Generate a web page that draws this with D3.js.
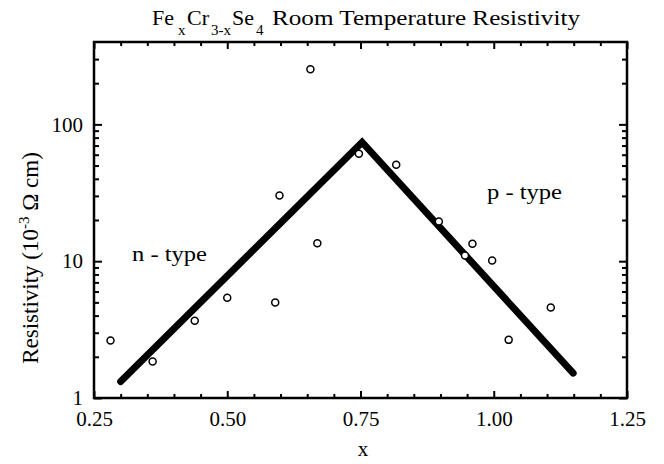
<!DOCTYPE html>
<html>
<head>
<meta charset="utf-8">
<script src="https://cdnjs.cloudflare.com/ajax/libs/d3/7.8.5/d3.min.js"></script>
<style>
  body { margin: 0; background: #fff; }
  text { font-family: "Liberation Serif", "DejaVu Serif", serif; fill: #000; }
</style>
</head>
<body>
<script>
// measured points, x composition vs resistivity (10^-3 ohm cm)
var xVals = [0.281, 0.36, 0.439, 0.50, 0.59, 0.598, 0.656, 0.669, 0.747, 0.817, 0.897, 0.946, 0.960, 0.997, 1.028, 1.107];
var rhoVals = [2.63, 1.85, 3.67, 5.4, 4.99, 30.2, 253, 13.5, 61, 50.7, 19.5, 11.0, 13.4, 10.1, 2.66, 4.59];

// guide lines (n-type rise, p-type fall)
var fitX = [0.30, 0.753, 1.149];
var fitY = [1.32, 74, 1.52];

var xTickLabels = [0.25, 0.50, 0.75, 1.00, 1.25];
var xMinorTicks = [0.30, 0.35, 0.40, 0.45, 0.55, 0.60, 0.65, 0.70, 0.80, 0.85, 0.90, 0.95, 1.05, 1.10, 1.15, 1.20];
var yTickLabels = [1, 10, 100];
var yMinorTicks = [2, 3, 4, 5, 6, 7, 8, 9, 20, 30, 40, 50, 60, 70, 80, 90, 200, 300];

var width = 664, height = 464;
var margin = {left: 94, right: 37, top: 42, bottom: 66};

var svg = d3.select("body").append("svg")
    .attr("width", width)
    .attr("height", height);

var x = d3.scaleLinear().domain([0.25, 1.25]).range([margin.left, width - margin.right]);
var y = d3.scaleLog().domain([1, 400]).range([height - margin.bottom, margin.top]);

var x0 = x.range()[0], x1 = x.range()[1], y0 = y.range()[0], y1 = y.range()[1];

function styleAxis(g) {
    g.select(".domain").remove();
    g.selectAll(".tick line").attr("stroke", "#000").attr("stroke-width", 2);
    g.selectAll(".tick text")
        .style("font-size", "21px");
}

// bottom
svg.append("g").attr("transform", "translate(0," + y0 + ")")
    .call(d3.axisBottom(x).tickValues(xTickLabels).tickSize(-7).tickPadding(13)
        .tickFormat(d3.format(".2f")))
    .call(styleAxis);
svg.append("g").attr("transform", "translate(0," + y0 + ")")
    .call(d3.axisBottom(x).tickValues(xMinorTicks).tickSize(-4).tickFormat(""))
    .call(styleAxis);
// top
svg.append("g").attr("transform", "translate(0," + y1 + ")")
    .call(d3.axisTop(x).tickValues(xTickLabels).tickSize(-7).tickFormat(""))
    .call(styleAxis);
svg.append("g").attr("transform", "translate(0," + y1 + ")")
    .call(d3.axisTop(x).tickValues(xMinorTicks).tickSize(-4).tickFormat(""))
    .call(styleAxis);
// left
svg.append("g").attr("transform", "translate(" + x0 + ",0)")
    .call(d3.axisLeft(y).tickValues(yTickLabels).tickSize(-8).tickPadding(11)
        .tickFormat(d3.format("d")))
    .call(styleAxis);
svg.append("g").attr("transform", "translate(" + x0 + ",0)")
    .call(d3.axisLeft(y).tickValues(yMinorTicks).tickSize(-5).tickFormat(""))
    .call(styleAxis);
// right
svg.append("g").attr("transform", "translate(" + x1 + ",0)")
    .call(d3.axisRight(y).tickValues(yTickLabels).tickSize(-8).tickFormat(""))
    .call(styleAxis);
svg.append("g").attr("transform", "translate(" + x1 + ",0)")
    .call(d3.axisRight(y).tickValues(yMinorTicks).tickSize(-5).tickFormat(""))
    .call(styleAxis);

// frame
svg.append("rect")
    .attr("x", x0).attr("y", y1)
    .attr("width", x1 - x0).attr("height", y0 - y1)
    .attr("fill", "none").attr("stroke", "#000").attr("stroke-width", 2.5);

// thick guide line
var fit = fitX.map(function (d, i) { return [d, fitY[i]]; });
svg.append("path")
    .datum(fit)
    .attr("d", d3.line().x(function (d) { return x(d[0]); }).y(function (d) { return y(d[1]); }))
    .attr("fill", "none")
    .attr("stroke", "#000")
    .attr("stroke-width", 7)
    .attr("stroke-linecap", "round");

// points
svg.selectAll(".pt")
    .data(xVals)
    .enter().append("circle")
    .attr("class", "pt")
    .attr("cx", function (d) { return x(d); })
    .attr("cy", function (d, i) { return y(rhoVals[i]); })
    .attr("r", 3.5)
    .attr("fill", "#fff")
    .attr("stroke", "#000")
    .attr("stroke-width", 1.5);

// region labels
svg.append("text").attr("x", 132).attr("y", 261).style("font-size", "22px")
    .attr("textLength", 75).attr("lengthAdjust", "spacingAndGlyphs").text("n - type");
svg.append("text").attr("x", 487).attr("y", 199).style("font-size", "22px")
    .attr("textLength", 75).attr("lengthAdjust", "spacingAndGlyphs").text("p - type");

// title, pieces placed one by one
function piece(px, py, size, s) {
    return svg.append("text").attr("x", px).attr("y", py).style("font-size", size + "px").text(s);
}
piece(152, 25, 22, "Fe");
piece(178, 35, 15, "x");
piece(187, 25, 22, "Cr");
piece(211, 35, 15, "3-x");
piece(232, 25, 22, "Se");
piece(256, 35, 15, "4");
piece(272, 25, 22, "Room Temperature Resistivity")
    .attr("textLength", 308).attr("lengthAdjust", "spacingAndGlyphs");

// x label
svg.append("text").attr("x", 363).attr("y", 456)
    .attr("text-anchor", "middle").style("font-size", "21px").text("x");

// y label
var yl = svg.append("text")
    .attr("transform", "translate(38,258) rotate(-90)")
    .attr("text-anchor", "middle")
    .style("font-size", "23px");
yl.append("tspan").text("Resistivity (10");
yl.append("tspan").attr("dy", -9).style("font-size", "15px").text("-3");
yl.append("tspan").attr("dy", 9).text(" \u03A9 cm)");
</script>
</body>
</html>
